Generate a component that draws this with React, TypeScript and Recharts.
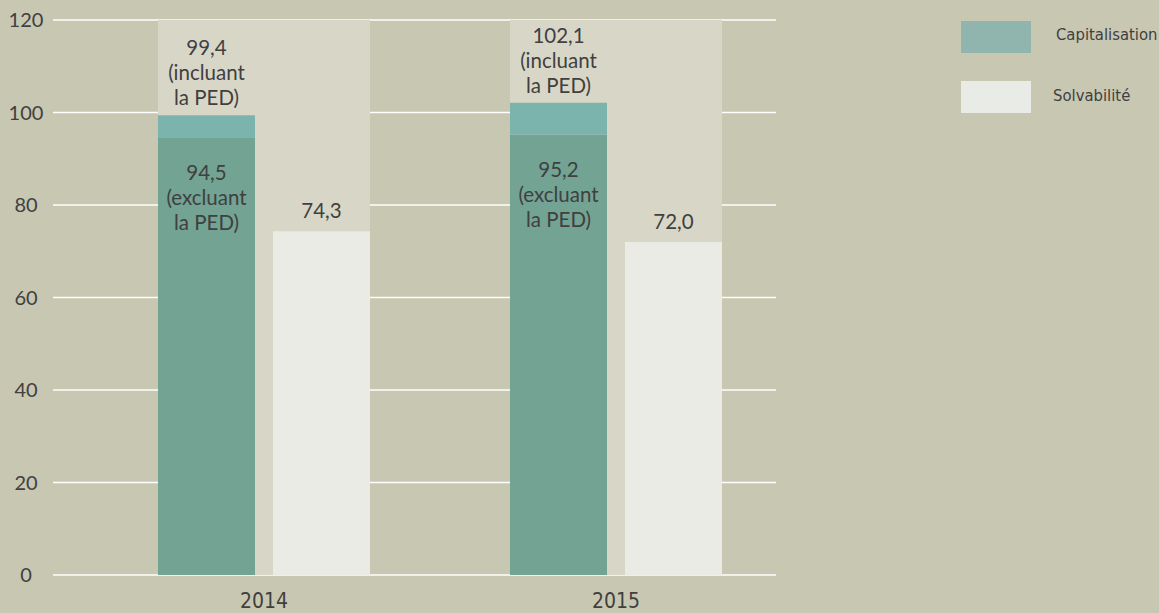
import React from 'react';
import { BarChart, Bar, XAxis, YAxis, CartesianGrid, LabelList } from 'recharts';

const years = ['2014', '2015'];
const capExcl = [94.5, 95.2];
const capIncl = [99.4, 102.1];
const solv = [74.3, 72.0];
const inclLabels = [['99,4', '(incluant', 'la PED)'], ['102,1', '(incluant', 'la PED)']];
const exclLabels = [['94,5', '(excluant', 'la PED)'], ['95,2', '(excluant', 'la PED)']];
const solvLabels = ['74,3', '72,0'];
const yTicks = [0, 20, 40, 60, 80, 100, 120];
const bandMax = 120;

const data = years.map((y, i) => ({
  year: y,
  excl: capExcl[i],
  extra: +(capIncl[i] - capExcl[i]).toFixed(1),
  solv: solv[i],
  band: bandMax,
}));

const TXT = '#404040';
const FONT = 'Lato, "Noto Sans", sans-serif';
const NARROW = '"DejaVu Sans Condensed", "Liberation Sans Narrow", sans-serif';
const LBL = 20.5;

const InclLabel = (props: any) => {
  const { x, y, width, index } = props;
  const cx = x + width / 2;
  const lines = inclLabels[index];
  return (
    <g>
      {lines.map((l: string, k: number) => (
        <text key={k} x={cx} y={y - 60 + k * 25} textAnchor="middle" fill={TXT} fontSize={LBL} fontFamily={FONT}>{l}</text>
      ))}
    </g>
  );
};

const ExclLabel = (props: any) => {
  const { x, y, width, index } = props;
  const cx = x + width / 2;
  const lines = exclLabels[index];
  return (
    <g>
      {lines.map((l: string, k: number) => (
        <text key={k} x={cx} y={y + 42 + k * 25} textAnchor="middle" fill={TXT} fontSize={LBL} fontFamily={FONT}>{l}</text>
      ))}
    </g>
  );
};

const SolvLabel = (props: any) => {
  const { x, y, width, index } = props;
  return (
    <text x={x + width / 2} y={y - 13} textAnchor="middle" fill={TXT} fontSize={LBL} fontFamily={FONT}>
      {solvLabels[index]}
    </text>
  );
};

const YTick = (props: any) => {
  const { y, payload } = props;
  return (
    <text x={26} y={y + 7} textAnchor="middle" fill={TXT} fontSize={20} fontFamily={FONT}>
      {payload.value}
    </text>
  );
};

const XTick = (props: any) => {
  const { x, payload } = props;
  return (
    <text x={x} y={608} textAnchor="middle" fill={TXT} fontSize={21} fontFamily={NARROW}>
      {payload.value}
    </text>
  );
};

export default function App() {
  return (
    <div style={{ position: 'absolute', left: 0, top: 0, width: 1159, height: 613, background: '#c8c7b2', overflow: 'hidden' }}>
      <BarChart
        width={1159}
        height={613}
        data={data}
        margin={{ top: 20, right: 383, bottom: 0, left: 0 }}
        barGap={18}
      >
        <CartesianGrid vertical={false} stroke="#ffffff" strokeWidth={1.5} />
        <XAxis
          dataKey="year"
          xAxisId="main"
          axisLine={false}
          tickLine={false}
          padding={{ left: 35, right: -16 }}
          height={38}
          tick={<XTick />}
          interval={0}
        />
        <XAxis dataKey="year" xAxisId="bg" hide padding={{ left: 35, right: -16 }} />
        <YAxis
          domain={[0, 120]}
          ticks={yTicks}
          axisLine={false}
          tickLine={false}
          width={53}
          tick={<YTick />}
          interval={0}
        />
        <Bar dataKey="band" xAxisId="bg" barSize={212} fill="#d8d7c7" isAnimationActive={false} />
        <Bar dataKey="excl" xAxisId="main" stackId="cap" barSize={97} fill="#72a393" isAnimationActive={false}>
          <LabelList dataKey="excl" content={<ExclLabel />} />
        </Bar>
        <Bar dataKey="extra" xAxisId="main" stackId="cap" barSize={97} fill="#7ab4ac" isAnimationActive={false}>
          <LabelList dataKey="extra" content={<InclLabel />} />
        </Bar>
        <Bar dataKey="solv" xAxisId="main" barSize={97} fill="#e9ebe4" isAnimationActive={false}>
          <LabelList dataKey="solv" content={<SolvLabel />} />
        </Bar>
      </BarChart>
      <div style={{ position: 'absolute', left: 961, top: 21, width: 70, height: 32, background: '#8fb5ae' }} />
      <div style={{ position: 'absolute', left: 1056, top: 24, fontFamily: NARROW, fontSize: 16.5, color: TXT, lineHeight: '22px', whiteSpace: 'nowrap' }}>Capitalisation</div>
      <div style={{ position: 'absolute', left: 961, top: 81, width: 70, height: 32, background: '#e9ece6' }} />
      <div style={{ position: 'absolute', left: 1053, top: 85, fontFamily: NARROW, fontSize: 16.5, color: TXT, lineHeight: '22px', whiteSpace: 'nowrap' }}>Solvabilité</div>
    </div>
  );
}
